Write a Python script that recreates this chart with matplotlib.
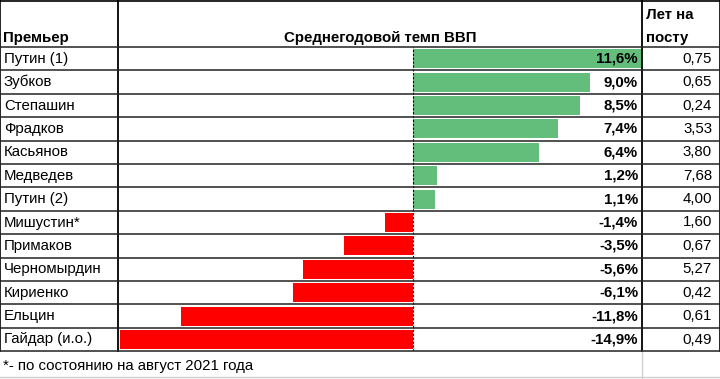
import matplotlib
matplotlib.use("Agg")
import matplotlib.pyplot as plt

premiers = ["Путин (1)", "Зубков", "Степашин", "Фрадков", "Касьянов", "Медведев",
            "Путин (2)", "Мишустин*", "Примаков", "Черномырдин", "Кириенко",
            "Ельцин", "Гайдар (и.о.)"]
gdp = [11.6, 9.0, 8.5, 7.4, 6.4, 1.2, 1.1, -1.4, -3.5, -5.6, -6.1, -11.8, -14.9]
years = [0.75, 0.65, 0.24, 3.53, 3.80, 7.68, 4.00, 1.60, 0.67, 5.27, 0.42, 0.61, 0.49]

plt.rcParams['font.family'] = ['Liberation Sans', 'DejaVu Sans']
fs = 10.8

W, H = 720, 379
top, row_h = 47, 23.4
n = len(premiers)
bottom = top + row_h * n
c1, c2 = 118, 642

fig = plt.figure(figsize=(7.2, 3.79), dpi=100)

# data bars (drawn underneath the table overlay)
ax = fig.add_axes([c1 / W, (H - bottom) / H, (c2 - c1) / W, (bottom - top) / H])
ax.set_zorder(0)
colors = ['#63BE7B' if v >= 0 else '#FF0000' for v in gdp]
ax.barh(range(n), gdp, height=0.82, color=colors)
ax.axvline(0, color='black', lw=0.8, ls=(0, (2, 1.5)))
ax.set_xlim(-15.0, 11.65)
ax.set_ylim(n - 0.5, -0.5)
ax.axis('off')

# table frame and texts in pixel coordinates
ax0 = fig.add_axes([0, 0, 1, 1])
ax0.set_zorder(1)
ax0.patch.set_alpha(0)
ax0.set_xlim(0, W)
ax0.set_ylim(H, 0)
ax0.axis('off')

ax0.plot([0, 0], [0, bottom], color='black', lw=1.2)
ax0.plot([W - 0.5, W - 0.5], [0, bottom], color='black', lw=1.2)
ax0.plot([0, W], [0.5, 0.5], color='black', lw=1.2)
ax0.plot([c1, c1], [0, bottom], color='black', lw=1.3)
ax0.plot([c2, c2], [0, bottom], color='black', lw=1.3)
ax0.plot([c2, c2], [bottom, H], color='#d0d0d0', lw=1)
ax0.plot([0, W], [H - 2, H - 2], color='#d0d0d0', lw=1)
for i in range(n + 1):
    ax0.plot([0, W], [top + i * row_h] * 2, color='#222222', lw=1.1)

ax0.text(3, 38, "Премьер", fontsize=fs, fontweight='bold', va='center')
ax0.text((c1 + c2) / 2, 38, "Среднегодовой темп ВВП", fontsize=fs,
         fontweight='bold', va='center', ha='center')
ax0.text(c2 + 4, 15, "Лет на", fontsize=fs, fontweight='bold', va='center')
ax0.text(c2 + 4, 38, "посту", fontsize=fs, fontweight='bold', va='center')
ax0.text(3, bottom + 15, "*- по состоянию на август 2021 года", fontsize=fs, va='center')

for i, (name, g, y) in enumerate(zip(premiers, gdp, years)):
    yc = top + row_h * (i + 0.5)
    ax0.text(4, yc, name, fontsize=fs, va='center')
    ax0.text(c2 - 4, yc, f"{g:.1f}%".replace('.', ','), fontsize=fs,
             fontweight='bold', va='center', ha='right')
    ax0.text(W - 8, yc, f"{y:.2f}".replace('.', ','), fontsize=fs,
             va='center', ha='right')

fig.savefig('out.png', dpi=100)
